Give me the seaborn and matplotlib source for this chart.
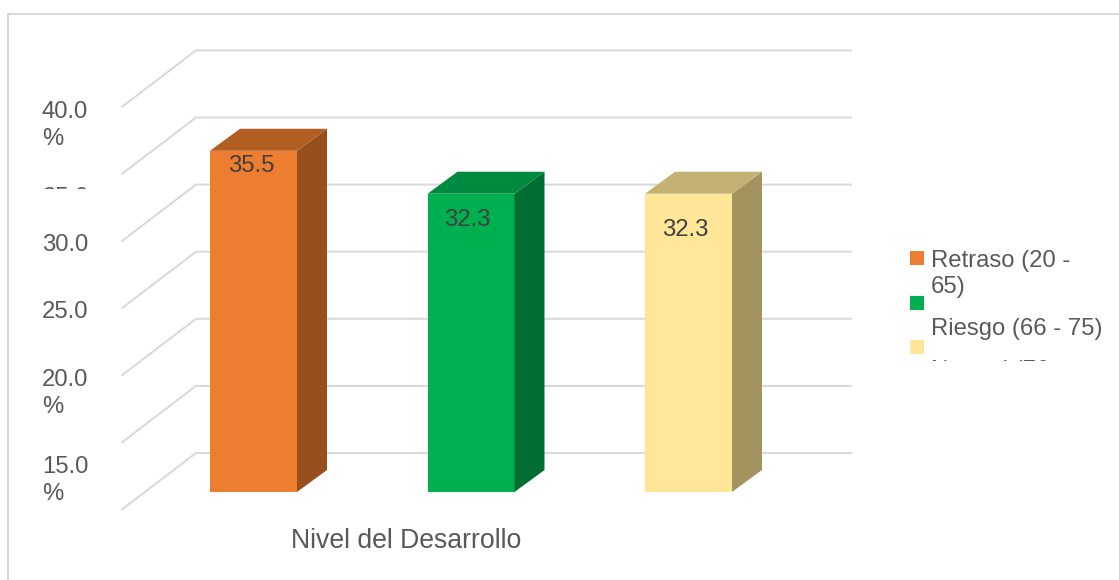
import matplotlib
matplotlib.use("Agg")
import matplotlib.pyplot as plt
import seaborn as sns
import pandas as pd
from matplotlib.lines import Line2D
from matplotlib.patches import Polygon, Rectangle
from matplotlib.transforms import Bbox, ScaledTranslation

# Data
categories = ["Retraso (20 - 65)", "Riesgo (66 - 75)", "Normal (76 - 100)"]
values = [35.5, 32.3, 32.3]
value_labels = ["35.5", "32.3", "32.3"]
axis_ticks = [40, 35, 30, 25, 20, 15]
axis_tick_labels = ["40.0\n%", "35.0", "30.0", "25.0", "20.0\n%", "15.0\n%"]
axis_base = 10
grid_values = [40, 35, 30, 25, 20, 15, 10]
x_title = "Nivel del Desarrollo"

# Styles
face_colors = ["#ED7D31", "#00B050", "#FFE699"]
side_colors = ["#974F1C", "#006E32", "#A3945F"]
top_colors = ["#B25D22", "#008A3F", "#C3B274"]
grid_color = "#D9D9D9"
text_color = "#595959"
label_color = "#404040"
FONT = "Liberation Sans"
W, H = 1119, 580

sns.set_theme(style="white")
plt.rcParams["font.family"] = [FONT, "DejaVu Sans"]

fig = plt.figure(figsize=(W / 100, H / 100), dpi=100, facecolor="white")


def fx(px):
    return px / W


def fy(py):
    return 1 - py / H


# Plot area, in picture pixels
ax_l, ax_r, ax_t, ax_b = 122, 851, 50, 510
ax = fig.add_axes([fx(ax_l), fy(ax_b), (ax_r - ax_l) / W, (ax_b - ax_t) / H])

px_per_cat = 217.5
px_per_unit = 13.42
x0_px = 253.5
base_px = 493
bar_floor_px = 492

df = pd.DataFrame({"nivel": categories, "valor": values})
sns.barplot(data=df, x="nivel", y="valor", hue="nivel", palette=face_colors,
            hue_order=categories, order=categories, width=0.4, legend=False,
            saturation=1, ax=ax, zorder=3)

ax.set_xlim((ax_l - x0_px) / px_per_cat, (ax_r - x0_px) / px_per_cat)
ax.set_ylim(axis_base + (base_px - ax_b) / px_per_unit,
            axis_base + (base_px - ax_t) / px_per_unit)

# Pseudo-3D depth of the bars
bar_floor = axis_base + (base_px - bar_floor_px) / px_per_unit
depth_x = 30 / px_per_cat
depth_y = 22 / px_per_unit
for i, container in enumerate(ax.containers):
    bar = container[0]
    bar.set_y(bar_floor)
    bar.set_height(values[i] - bar_floor)
    bar.set_linewidth(0)
    x1 = bar.get_x()
    x2 = x1 + bar.get_width()
    v = values[i]
    ax.add_patch(Polygon([(x2, bar_floor), (x2 + depth_x, bar_floor + depth_y),
                          (x2 + depth_x, v + depth_y), (x2, v)],
                         closed=True, fc=side_colors[i], ec="none", zorder=3))
    ax.add_patch(Polygon([(x1, v), (x2, v), (x2 + depth_x, v + depth_y),
                          (x1 + depth_x, v + depth_y)],
                         closed=True, fc=top_colors[i], ec="none", zorder=3))

# Gridlines: floor-side diagonal, then along the back wall
back_x = (196 - x0_px) / px_per_cat
back_up = 40 / px_per_unit
front_down = 16.4 / px_per_unit
xmin, xmax = ax.get_xlim()
for g in grid_values:
    ax.plot([xmin, back_x, xmax], [g - front_down, g + back_up, g + back_up],
            color=grid_color, lw=1.45, zorder=1, clip_on=False,
            solid_joinstyle="miter")

# Value labels
label_pads = [-7, -18, -28]
label_shift = [-2.5, -3.5, -3.5]
for i, container in enumerate(ax.containers):
    ax.text(i + label_shift[i] / px_per_cat,
            values[i] + (label_pads[i] - 8) / px_per_unit,
            value_labels[i], ha="center", va="center", fontsize=17.2,
            color=label_color, zorder=5)

# Axis decoration
for s in ax.spines.values():
    s.set_visible(False)
ax.set_facecolor("none")
ax.set_ylabel("")
ax.set_xticks([])
ax.set_xlabel(x_title, fontsize=19.2, color=text_color)
ax.xaxis.set_label_coords((406.5 - ax_l) / (ax_r - ax_l),
                          (ax_b - 541) / (ax_b - ax_t), transform=ax.transAxes)
ax.xaxis.label.set_va("center")

# Tick labels: left aligned, some pushed down as in the reference
tick_drop = [10.5, 30, 9.5, 9, 10, 30]
ax.set_yticks(axis_ticks)
ax.set_yticklabels(axis_tick_labels)
ax.tick_params(axis="y", length=0)
for lab, drop in zip(ax.get_yticklabels(), tick_drop):
    lab.set_ha("left")
    lab.set_va("top")
    lab.set_x((46.5 - ax_l) / (ax_r - ax_l))
    lab.set_fontsize(17.2)
    lab.set_color(text_color)
    lab.set_linespacing(1.3)
    lab.set_transform(lab.get_transform()
                      + ScaledTranslation(0, -drop / 100, fig.dpi_scale_trans))
# the 35.0 label is cut off in the reference
clipped = ax.get_yticklabels()[1]
clipped.set_clip_box(Bbox.from_extents(0, H - 189, W, H))
clipped.set_clip_on(True)

# Frame of the chart area
fig.add_artist(Line2D([fx(7.5), fx(7.5)], [0, fy(14)], color=grid_color, lw=1.45))
fig.add_artist(Line2D([fx(7.5), 1], [fy(14), fy(14)], color=grid_color, lw=1.45))

# Legend
swatch_y = [251, 296, 340]
legend_texts = ["Retraso (20 -\n65)", "Riesgo (66 - 75)", "Normal (76 -"]
legend_text_y = [250, 318, 360]
for i in range(3):
    fig.add_artist(Rectangle((fx(910), fy(swatch_y[i] + 14)), 14 / W, 14 / H,
                             transform=fig.transFigure, fc=face_colors[i], ec="none"))
    t = fig.text(fx(931), fy(legend_text_y[i]), legend_texts[i], ha="left", va="top",
                 fontsize=17.2, color=text_color, linespacing=1.25)
    if i == 2:
        t.set_clip_box(Bbox.from_extents(0, H - 361, W, H))
        t.set_clip_on(True)

fig.savefig("out.png", dpi=100, facecolor="white")
